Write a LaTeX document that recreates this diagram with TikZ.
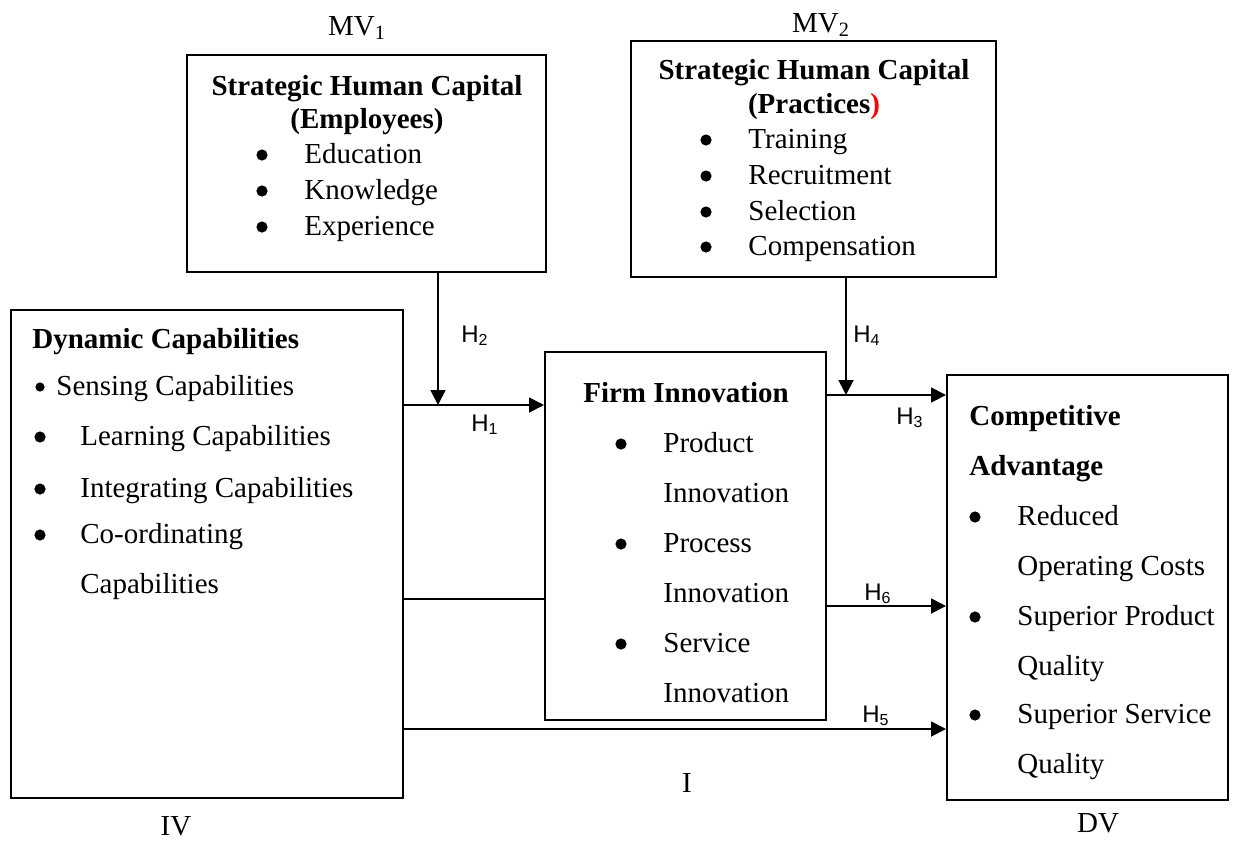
\documentclass[tikz,border=0pt]{standalone}
\usepackage{fontspec}
\setmainfont{Liberation Serif}
\newfontfamily\hypfont{Liberation Sans}
\usetikzlibrary{arrows.meta,fit}
\tikzset{
  every node/.style={inner sep=0pt,font=\fontsize{14.5}{17}\selectfont},
  box/.style={draw,line width=1pt,inner sep=0pt},
  item/.style={anchor=base west},
  dot/.style={circle,fill,minimum size=5.6pt},
  head/.style={anchor=base west,font=\fontsize{14.5}{17}\selectfont\bfseries},
  hyp/.style={anchor=base,font=\fontsize{12}{14}\selectfont\hypfont},
  link/.style={line width=0.9pt},
  arr/.style={link,-{Triangle[length=7.5pt,width=7.5pt]}},
}

\begin{document}
\begin{tikzpicture}[x=0.5pt,y=-0.5pt]
\useasboundingbox (0,0) rectangle (1235,841);
% boxes
\node[box,fit={(187,55) (546,272)}] (mv1) {};
\node[box,fit={(631,41) (996,277)}] (mv2) {};
\node[box,fit={(11,310) (403,798)}] (iv) {};
\node[box,fit={(545,352) (826,720)}] (fi) {};
\node[box,fit={(947,375) (1228,800)}] (ca) {};

% variable labels
\node[anchor=base] (mv1l) at (357,35) {MV\textsubscript{1}};
\node[anchor=base] (mv2l) at (821,32) {MV\textsubscript{2}};
\node[anchor=base] (ivl) at (176,835) {IV};
\node[anchor=base] (dvl) at (1098,832) {DV};
\node[anchor=base] (il) at (687,792) {I};

% moderator 1
\node[head,anchor=base] (mv1t) at (367,95) {Strategic Human Capital};
\node[head,anchor=base] (mv1s) at (367,128) {(Employees)};
\foreach \y/\txt [count=\i] in {163/Education,199/Knowledge,235/Experience}
{
  \node[dot] (mv1b\i) at (262,\y-8) {};
  \node[item] (mv1i\i) at (304,\y) {\txt};
}

% moderator 2
\node[head,anchor=base] (mv2t) at (814,79) {Strategic Human Capital};
\node[head,anchor=base] (mv2s) at (814,113) {(Practices\textcolor{red}{)}};
\foreach \y/\txt [count=\i] in {148/Training,184/Recruitment,220/Selection,255/Compensation}
{
  \node[dot] (mv2b\i) at (706,\y-8) {};
  \node[item] (mv2i\i) at (748,\y) {\txt};
}

% independent variable
\node[head] (ivt) at (32,348) {Dynamic Capabilities};
\node[dot,minimum size=4.6pt] (ivb0) at (40,387) {};
\node[item] (ivi0) at (56,395) {Sensing Capabilities};
\foreach \y/\txt [count=\i] in {445/Learning Capabilities,497/Integrating Capabilities,543/Co-ordinating}
{
  \node[dot] (ivb\i) at (40,\y-8) {};
  \node[item] (ivi\i) at (80,\y) {\txt};
}
\node[item] (ivi4) at (80,593) {Capabilities};

% mediator
\node[head,anchor=base] (fit) at (686,402) {Firm Innovation};
\foreach \y/\txt [count=\i] in {452/Product,552/Process,652/Service}
{
  \node[dot] (fib\i) at (621,\y-8) {};
  \node[item] (fii\i) at (663,\y) {\txt};
  \node[item] (fij\i) at (663,\y+50) {Innovation};
}

% dependent variable
\node[head] (cat) at (969,425) {Competitive};
\node[head] (cas) at (969,475) {Advantage};
\foreach \y/\txt/\more [count=\i] in {525/Reduced/Operating Costs,625/Superior Product/Quality,723/Superior Service/Quality}
{
  \node[dot] (cab\i) at (975,\y-8) {};
  \node[item] (cai\i) at (1017,\y) {\txt};
  \node[item] (caj\i) at (1017,\y+50) {\more};
}

% paths
\coordinate (hook1) at (438,405);
\coordinate (hook2) at (846,395);
\coordinate (lowmid) at (0,599);
\coordinate (lowfi) at (0,606);
\coordinate (direct) at (0,729);
\draw[arr] (mv1.south -| hook1) -- (hook1);
\draw[arr] (iv.east |- hook1) -- (fi.west |- hook1);
\draw[arr] (mv2.south -| hook2) -- (hook2);
\draw[arr] (fi.east |- hook2) -- (ca.west |- hook2);
\draw[link] (iv.east |- lowmid) -- (fi.west |- lowmid);
\draw[arr] (fi.east |- lowfi) -- (ca.west |- lowfi);
\draw[arr] (iv.east |- direct) -- (ca.west |- direct);

% hypotheses
\node[hyp] (h2) at (475,342) {H\textsubscript{2}};
\node[hyp] (h1) at (485,431) {H\textsubscript{1}};
\node[hyp] (h4) at (867,342) {H\textsubscript{4}};
\node[hyp] (h3) at (910,424) {H\textsubscript{3}};
\node[hyp] (h6) at (878,600) {H\textsubscript{6}};
\node[hyp] (h5) at (876,722) {H\textsubscript{5}};
\end{tikzpicture}
\end{document}
